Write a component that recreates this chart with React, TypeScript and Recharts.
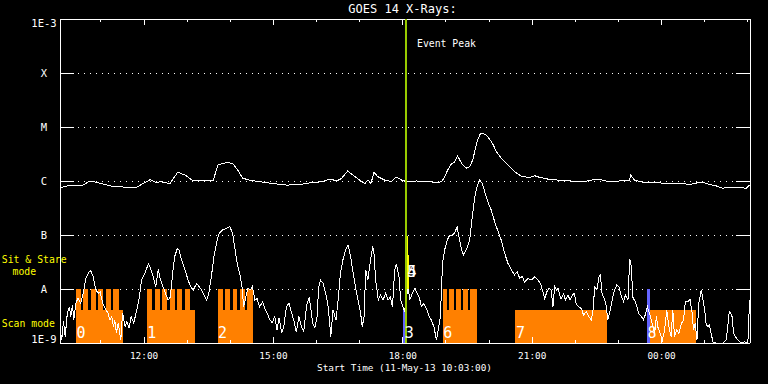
import React from 'react';
import {
  LineChart,
  Line,
  XAxis,
  YAxis,
  ReferenceArea,
  ReferenceLine,
  ReferenceDot
} from 'recharts';

const FONT = '"DejaVu Sans Mono", monospace';

// GOES long channel (1-8 A), hours since 00:00 on 11-May-13
const longTime = [
  10.05, 10.21, 10.40, 10.58, 10.75, 10.86, 11.28, 11.56, 11.83, 12.14,
  12.30, 12.37, 12.60, 12.78, 12.95, 13.11, 13.60, 13.71, 13.92, 14.06,
  14.17, 14.29, 14.45, 14.68, 14.98, 15.31, 15.61, 15.91, 16.14, 16.31,
  16.47, 16.58, 16.72, 16.84, 17.05, 17.12, 17.19, 17.26, 17.33, 17.42,
  17.58, 17.74, 17.84, 17.97, 18.09, 18.32, 18.62, 18.79, 18.90, 18.97,
  19.04, 19.13, 19.20, 19.27, 19.32, 19.39, 19.48, 19.55, 19.62, 19.69,
  19.73, 19.80, 19.90, 19.97, 20.08, 20.17, 20.29, 20.41, 20.55, 20.66,
  20.78, 20.94, 21.06, 21.17, 21.40, 21.80, 22.17, 22.52, 22.72, 23.02,
  23.26, 23.28, 23.37, 23.56, 23.95, 24.11, 24.48, 24.65, 24.92, 25.11,
  25.27, 25.41, 25.64, 25.97, 26.04
];
const longFlux = [
  7.4e-7, 8.1e-7, 8.4e-7, 8.4e-7, 1.0e-6, 9.6e-7, 7.9e-7, 7.7e-7, 7.7e-7, 1.06e-6,
  9.2e-7, 9.7e-7, 9.0e-7, 1.45e-6, 1.29e-6, 1.04e-6, 1.0e-6, 1.98e-6, 2.2e-6, 2.1e-6,
  1.6e-6, 1.12e-6, 1.04e-6, 9.7e-7, 9.0e-7, 8.4e-7, 8.6e-7, 9.4e-7, 9.7e-7, 1.09e-6,
  1.0e-6, 1.12e-6, 1.53e-6, 1.29e-6, 9.7e-7, 9.0e-7, 1.04e-6, 9.0e-7, 1.45e-6, 1.2e-6,
  1.04e-6, 9.7e-7, 1.19e-6, 1.04e-6, 9.7e-7, 1.0e-6, 9.7e-7, 9.3e-7, 9.7e-7, 1.2e-6,
  1.6e-6, 2.1e-6, 2.25e-6, 2.9e-6, 2.45e-6, 1.98e-6, 1.73e-6, 1.85e-6, 2.45e-6, 4.2e-6,
  5.7e-6, 7.6e-6, 7.4e-6, 6.6e-6, 4.95e-6, 3.5e-6, 2.6e-6, 2.1e-6, 1.6e-6, 1.35e-6,
  1.2e-6, 1.17e-6, 1.25e-6, 1.17e-6, 1.07e-6, 1.01e-6, 9.7e-7, 1.09e-6, 1.0e-6, 1.0e-6,
  1.04e-6, 1.29e-6, 1.04e-6, 9.5e-7, 9.3e-7, 8.8e-7, 9.0e-7, 8.6e-7, 9.6e-7, 8.6e-7,
  8.1e-7, 7.4e-7, 7.5e-7, 7.4e-7, 8.4e-7
];

// GOES short channel (0.5-4 A)
const shortTime = [
  10.05, 10.09, 10.13, 10.17, 10.22, 10.27, 10.30, 10.34, 10.37, 10.42,
  10.47, 10.53, 10.59, 10.65, 10.71, 10.76, 10.82, 10.88, 10.94, 10.98,
  11.04, 11.09, 11.16, 11.21, 11.25, 11.29, 11.32, 11.36, 11.40, 11.46,
  11.50, 11.56, 11.60, 11.65, 11.70, 11.76, 11.83, 11.88, 11.94, 12.02,
  12.10, 12.15, 12.21, 12.27, 12.33, 12.38, 12.44, 12.51, 12.56, 12.61,
  12.66, 12.71, 12.77, 12.81, 12.87, 12.95, 13.02, 13.08, 13.14, 13.22,
  13.28, 13.33, 13.39, 13.45, 13.50, 13.56, 13.62, 13.68, 13.74, 13.82,
  13.91, 13.99, 14.05, 14.10, 14.16, 14.22, 14.27, 14.31, 14.36, 14.41,
  14.47, 14.51, 14.57, 14.62, 14.68, 14.75, 14.80, 14.85, 14.92, 14.97,
  15.03, 15.08, 15.13, 15.19, 15.24, 15.30, 15.36, 15.42, 15.47, 15.53,
  15.59, 15.65, 15.70, 15.77, 15.83, 15.91, 15.96, 16.01, 16.05, 16.09,
  16.15, 16.21, 16.27, 16.33, 16.38, 16.45, 16.50, 16.55, 16.61, 16.67,
  16.73, 16.79, 16.85, 16.90, 16.96, 17.02, 17.06, 17.10, 17.14, 17.19,
  17.25, 17.30, 17.33, 17.37, 17.43, 17.48, 17.54, 17.60, 17.66, 17.71,
  17.76, 17.81, 17.85, 17.91, 17.95, 18.00, 18.04, 18.12, 18.16, 18.22,
  18.28, 18.33, 18.38, 18.43, 18.48, 18.55, 18.61, 18.66, 18.72, 18.78,
  18.82, 18.87, 18.92, 18.97, 19.03, 19.09, 19.15, 19.20, 19.26, 19.30,
  19.36, 19.41, 19.47, 19.55, 19.61, 19.67, 19.72, 19.78, 19.84, 19.90,
  19.97, 20.05, 20.13, 20.21, 20.28, 20.36, 20.44, 20.52, 20.59, 20.65,
  20.71, 20.77, 20.82, 20.90, 20.98, 21.06, 21.13, 21.19, 21.25, 21.29,
  21.34, 21.39, 21.44, 21.48, 21.52, 21.56, 21.60, 21.64, 21.67, 21.73,
  21.77, 21.83, 21.88, 21.93, 21.98, 22.02, 22.08, 22.14, 22.19, 22.25,
  22.31, 22.37, 22.41, 22.45, 22.50, 22.55, 22.58, 22.62, 22.68, 22.72,
  22.75, 22.81, 22.86, 22.91, 22.96, 23.01, 23.07, 23.12, 23.16, 23.22,
  23.26, 23.30, 23.33, 23.39, 23.43, 23.47, 23.53, 23.58, 23.63, 23.67,
  23.74, 23.78, 23.84, 23.88, 23.91, 23.97, 24.02, 24.07, 24.12, 24.17,
  24.22, 24.26, 24.30, 24.35, 24.40, 24.46, 24.51, 24.55, 24.61, 24.66,
  24.71, 24.74, 24.78, 24.82, 24.86, 24.92, 24.96, 25.00, 25.03, 25.07,
  25.11, 25.15, 25.19, 25.27, 25.42, 25.50, 25.57, 25.63, 25.67, 25.71,
  25.77, 25.85, 25.92, 26.00, 26.04
];
const shortFlux = [
  1.85e-9, 1.14e-9, 2.5e-9, 1.31e-9, 3.6e-9, 4.7e-9, 3.1e-9, 5.1e-9, 2.67e-9, 5.5e-9,
  6.8e-9, 5.5e-9, 8.4e-9, 1.6e-8, 2.0e-8, 2.2e-8, 1.7e-8, 9.6e-9, 8.4e-9, 8.9e-9,
  5.5e-9, 4.5e-9, 3.6e-9, 2.67e-9, 3.1e-9, 2.0e-9, 2.67e-9, 1.53e-9, 2.35e-9, 1.14e-9,
  3.6e-9, 2.0e-9, 2.5e-9, 1.9e-9, 3.1e-9, 2.35e-9, 4.1e-9, 6.25e-9, 1.47e-8, 1.95e-8,
  2.95e-8, 2.4e-8, 1.7e-8, 1.1e-8, 2.3e-8, 1.47e-8, 1.1e-8, 7.7e-9, 6.25e-9, 7.1e-9,
  1.9e-8, 4.0e-8, 5.6e-8, 5.3e-8, 3.44e-8, 2.25e-8, 1.47e-8, 1.1e-8, 9.6e-9, 1.27e-8,
  1.1e-8, 9.6e-9, 7.7e-9, 6.25e-9, 8.3e-9, 1.7e-8, 4.0e-8, 7.1e-8, 1.08e-7, 1.24e-7,
  1.33e-7, 1.42e-7, 1.08e-7, 6.1e-8, 2.95e-8, 1.9e-8, 1.1e-8, 4.7e-9, 7.1e-9, 1.03e-8,
  9.6e-9, 1.1e-8, 6.25e-9, 6.6e-9, 4.7e-9, 5.8e-9, 4.35e-9, 3.6e-9, 2.67e-9, 2.35e-9,
  3.1e-9, 1.74e-9, 2.9e-9, 1.53e-9, 2.0e-9, 4.7e-9, 5.5e-9, 3.6e-9, 2.67e-9, 1.6e-9,
  3.1e-9, 2.0e-9, 1.6e-9, 5.1e-9, 7.1e-9, 2.3e-9, 1.9e-9, 3.1e-9, 1.1e-8, 1.47e-8,
  1.27e-8, 8.3e-9, 4.7e-9, 1.31e-9, 4.1e-9, 2.67e-9, 6.25e-9, 1.9e-8, 3.44e-8, 5.3e-8,
  6.5e-8, 4.0e-8, 1.9e-8, 1.1e-8, 6.25e-9, 3.6e-9, 2.0e-9, 3.1e-9, 2.25e-8, 1.47e-8,
  3.44e-8, 6.1e-8, 4.6e-8, 1.47e-8, 6.25e-9, 7.7e-9, 6.25e-9, 8.3e-9, 6.25e-9, 7.1e-9,
  4.7e-9, 2.25e-8, 2.95e-8, 1.7e-8, 6.25e-9, 4.7e-9, 3.8e-9, 1.1e-8, 6.25e-9, 8.3e-9,
  1.03e-8, 8.3e-9, 7.1e-9, 4.7e-9, 5.3e-9, 4.35e-9, 3.1e-9, 2.67e-9, 2.0e-9, 1.14e-9,
  1.74e-9, 3.1e-9, 2.95e-8, 5.3e-8, 8.1e-8, 1.0e-7, 1.0e-7, 1.1e-7, 1.42e-7, 9.3e-8,
  5.3e-8, 4.26e-8, 5.3e-8, 8.1e-8, 2.2e-7, 5.1e-7, 7.9e-7, 1.04e-6, 9.0e-7, 6.3e-7,
  4.1e-7, 2.9e-7, 1.75e-7, 1.15e-7, 8.1e-8, 4.6e-8, 2.95e-8, 2.25e-8, 1.82e-8, 2.1e-8,
  1.57e-8, 1.7e-8, 1.35e-8, 1.57e-8, 1.47e-8, 1.7e-8, 1.47e-8, 1.27e-8, 8.9e-9, 6.6e-9,
  8.9e-9, 1.03e-8, 9.6e-9, 4.7e-9, 1.1e-8, 9.6e-9, 1.03e-8, 7.7e-9, 6.6e-9, 8.3e-9,
  6.25e-9, 7.7e-9, 6.25e-9, 7.7e-9, 8.3e-9, 5.3e-9, 4.7e-9, 4.35e-9, 3.3e-9, 3.8e-9,
  3.1e-9, 2.67e-9, 4.1e-9, 1.1e-8, 9.6e-9, 1.7e-8, 1.82e-8, 8.3e-9, 6.25e-9, 4.7e-9,
  2.67e-9, 4.1e-9, 6.6e-9, 9.6e-9, 1.19e-8, 1.1e-8, 7.1e-9, 5.8e-9, 7.7e-9, 6.25e-9,
  3.6e-8, 2.6e-8, 7.1e-9, 5.8e-9, 4.7e-9, 3.5e-9, 3.1e-9, 2.67e-9, 3.5e-9, 4.7e-9,
  3.1e-9, 2.3e-9, 1.5e-9, 3.1e-9, 2.0e-9, 1.5e-9, 1.14e-9, 1.74e-9, 4.1e-9, 2.0e-9,
  1.31e-9, 4.1e-9, 1.31e-9, 1.74e-9, 1.5e-9, 2.3e-9, 2.67e-9, 5.8e-9, 5.8e-9, 6.4e-9,
  3.5e-9, 1.74e-9, 2.3e-9, 1.14e-9, 5.3e-9, 9.6e-9, 6.25e-9, 4.1e-9, 2.3e-9, 2.0e-9,
  2.15e-9, 1.5e-9, 1.05e-9, 1.0e-9, 1.0e-9, 1.14e-9, 3.8e-9, 3.3e-9, 1.5e-9, 1.31e-9,
  1.14e-9, 1.0e-9, 1.05e-9, 1.0e-9, 6.25e-9
];

// flare class levels on the y axis
const levelValues = [1e-9, 1e-8, 1e-7, 1e-6, 1e-5, 1e-4, 1e-3];
const levelLabels = ['1E-9', 'A', 'B', 'C', 'M', 'X', '1E-3'];
const gridLevels = [1e-8, 1e-7, 1e-6, 1e-5, 1e-4];

const hourTicks = [11, 12, 13, 14, 15, 16, 17, 18, 19, 20, 21, 22, 23, 24, 25, 26];

// IRIS observing modes (hours)
const scanStart = [10.42, 12.07, 13.71, 18.92, 20.60, 23.73];
const scanEnd = [11.50, 13.18, 14.52, 19.71, 22.73, 24.79];
const stareStart = [
  10.42, 10.59, 10.76, 10.94, 11.11, 11.29,
  12.07, 12.25, 12.42, 12.59, 12.76, 12.94,
  13.71, 13.88, 14.05, 14.22, 14.39,
  18.92, 19.08, 19.23, 19.40, 19.56
];
const stareEnd = [
  10.54, 10.71, 10.89, 11.05, 11.23, 11.42,
  12.18, 12.36, 12.54, 12.71, 12.89, 13.06,
  13.82, 13.99, 14.16, 14.34, 14.52,
  19.02, 19.18, 19.34, 19.50, 19.71
];
const obsIds = ['0', '1', '2', '3', '4', '5', '6', '7', '8'];
const obsTime = [10.54, 12.18, 13.82, 18.15, 18.21, 18.21, 19.04, 20.73, 23.78];
const obsFlux = [1.55e-9, 1.55e-9, 1.55e-9, 1.55e-9, 2.07e-8, 2.07e-8, 1.55e-9, 1.55e-9, 1.55e-9];

const eventPeak = 18.073;

const longData = longTime.map((t, i) => ({ t, v: longFlux[i] }));
const shortData = shortTime.map((t, i) => ({ t, v: shortFlux[i] }));

const levelIndex = (v: number) =>
  levelValues.findIndex((l) => Math.abs(Math.log10(l) - Math.log10(v)) < 0.01);

const LeftTick = (props: any) => {
  const { x, y, payload } = props;
  const i = levelIndex(payload.value);
  const dy = i === 0 ? 0.3 : i === levelValues.length - 1 ? 7.7 : 4.3;
  return (
    <g>
      <line x1={x} x2={x + 14} y1={y} y2={y} stroke="#fff" shapeRendering="crispEdges" />
      <text x={x - 16} y={y + dy} textAnchor="middle" fill="#fff" fontSize={10.5} fontFamily={FONT}>
        {levelLabels[i]}
      </text>
    </g>
  );
};

const RightTick = (props: any) => {
  const { x, y } = props;
  return <line x1={x - 14} x2={x} y1={y} y2={y} stroke="#fff" shapeRendering="crispEdges" />;
};

const hourLabel = (h: number) => String(h % 24).padStart(2, '0') + ':00';

const BottomTick = (props: any) => {
  const { x, y, payload } = props;
  const major = payload.value % 3 === 0;
  return (
    <g>
      <line x1={x} x2={x} y1={y} y2={y - (major ? 6 : 3)} stroke="#fff" shapeRendering="crispEdges" />
      {major && (
        <text x={x} y={y + 16.3} textAnchor="middle" fill="#fff" fontSize={9.4} fontFamily={FONT}>
          {hourLabel(payload.value)}
        </text>
      )}
    </g>
  );
};

const TopTick = (props: any) => {
  const { x, y, payload } = props;
  const major = payload.value % 3 === 0;
  return <line x1={x} x2={x} y1={y} y2={y + (major ? 6 : 3)} stroke="#fff" shapeRendering="crispEdges" />;
};

const PeakLabel = (props: any) => {
  const { viewBox } = props;
  return (
    <text x={viewBox.x + 11} y={viewBox.y + 27.7} fill="#fff" fontSize={9.8} fontFamily={FONT}>
      Event Peak
    </text>
  );
};

const App: React.FC = () => {
  return (
    <div style={{ position: 'fixed', left: 0, top: 0, width: 768, height: 384, background: '#000' }}>
      <LineChart width={768} height={384} margin={{ top: 0, right: 0, bottom: 0, left: 0 }}>
        <XAxis
          xAxisId="b"
          type="number"
          dataKey="t"
          domain={[10.05, 26.05]}
          allowDataOverflow
          ticks={hourTicks}
          interval={0}
          height={41}
          tickSize={0}
          tickMargin={0}
          tickLine={false}
          tick={<BottomTick />}
          axisLine={{ stroke: '#fff', shapeRendering: 'crispEdges' }}
        />
        <XAxis
          xAxisId="top"
          orientation="top"
          type="number"
          dataKey="t"
          domain={[10.05, 26.05]}
          allowDataOverflow
          ticks={hourTicks}
          interval={0}
          height={19}
          tickSize={0}
          tickMargin={0}
          tickLine={false}
          tick={<TopTick />}
          axisLine={{ stroke: '#fff', shapeRendering: 'crispEdges' }}
        />
        <YAxis
          yAxisId="l"
          type="number"
          scale="log"
          domain={[1e-9, 1e-3]}
          allowDataOverflow
          ticks={levelValues}
          interval={0}
          width={60}
          tickSize={0}
          tickMargin={0}
          tickLine={false}
          tick={<LeftTick />}
          axisLine={{ stroke: '#fff', shapeRendering: 'crispEdges' }}
        />
        <YAxis
          yAxisId="r"
          orientation="right"
          type="number"
          scale="log"
          domain={[1e-9, 1e-3]}
          allowDataOverflow
          ticks={levelValues}
          interval={0}
          width={18}
          tickSize={0}
          tickMargin={0}
          tickLine={false}
          tick={<RightTick />}
          axisLine={{ stroke: '#fff', shapeRendering: 'crispEdges' }}
        />

        {gridLevels.map((g) => (
          <ReferenceLine
            key={'g' + g}
            xAxisId="b"
            yAxisId="l"
            y={g}
            stroke="#fff"
            strokeDasharray="1 5"
            shapeRendering="crispEdges"
            zIndex={-50}
          />
        ))}

        {scanStart.map((s, i) => (
          <ReferenceArea
            key={'scan' + i}
            xAxisId="b"
            yAxisId="l"
            x1={s}
            x2={scanEnd[i]}
            y1={1e-9}
            y2={4.1e-9}
            fill="#ff8000"
            fillOpacity={1}
            stroke="none"
            shapeRendering="crispEdges"
            zIndex={50}
          />
        ))}
        {stareStart.map((s, i) => (
          <ReferenceArea
            key={'stare' + i}
            xAxisId="b"
            yAxisId="l"
            x1={s}
            x2={stareEnd[i]}
            y1={1e-9}
            y2={1e-8}
            fill="#ff8000"
            fillOpacity={1}
            stroke="none"
            shapeRendering="crispEdges"
            zIndex={50}
          />
        ))}
        <ReferenceArea xAxisId="b" yAxisId="l" x1={18.01} x2={18.07} y1={1e-9} y2={4.1e-9} fill="#6464ff" fillOpacity={1} stroke="none" shapeRendering="crispEdges" zIndex={60} />
        <ReferenceArea xAxisId="b" yAxisId="l" x1={23.66} x2={23.73} y1={1e-9} y2={1e-8} fill="#6464ff" fillOpacity={1} stroke="none" shapeRendering="crispEdges" zIndex={60} />

        <Line xAxisId="b" yAxisId="l" data={longData} dataKey="v" stroke="#fff" strokeWidth={1} shapeRendering="crispEdges" dot={false} activeDot={false} isAnimationActive={false} />
        <Line xAxisId="b" yAxisId="l" data={shortData} dataKey="v" stroke="#fff" strokeWidth={1} shapeRendering="crispEdges" dot={false} activeDot={false} isAnimationActive={false} />

        <ReferenceArea xAxisId="b" yAxisId="l" x1={18.09} x2={18.135} y1={1e-8} y2={4.3e-8} fill="#ffff00" fillOpacity={1} stroke="none" shapeRendering="crispEdges" zIndex={1400} />
        <ReferenceArea xAxisId="b" yAxisId="l" x1={18.09} x2={18.11} y1={4.3e-8} y2={9.6e-8} fill="#ffff00" fillOpacity={1} stroke="none" shapeRendering="crispEdges" zIndex={1400} />
        <ReferenceLine
          xAxisId="b"
          yAxisId="l"
          x={eventPeak}
          stroke="#99cc00"
          strokeWidth={2}
          zIndex={1500}
          label={<PeakLabel />}
        />

        {obsIds.map((id, i) => (
          <ReferenceDot
            key={'obs' + i}
            xAxisId="b"
            yAxisId="l"
            x={obsTime[i]}
            y={obsFlux[i]}
            r={0}
            fill="none"
            stroke="none"
            zIndex={1600}
            label={{ value: id, position: 'center', fill: '#fff', fontSize: 15, fontFamily: FONT }}
          />
        ))}
      </LineChart>

      <svg width={768} height={384} style={{ position: 'absolute', left: 0, top: 0, pointerEvents: 'none' }}>
        <text x={402.5} y={13.3} textAnchor="middle" fill="#fff" fontSize={12} fontFamily={FONT}>
          GOES 14 X-Rays:
        </text>
        <text x={404.5} y={371} textAnchor="middle" fill="#fff" fontSize={9.4} fontFamily={FONT}>
          Start Time (11-May-13 10:03:00)
        </text>
        <text x={34.2} y={263} textAnchor="middle" fill="#ffff00" fontSize={9.8} fontFamily={FONT}>
          Sit &amp; Stare
        </text>
        <text x={24.3} y={275} textAnchor="middle" fill="#ffff00" fontSize={9.8} fontFamily={FONT}>
          mode
        </text>
        <text x={28.3} y={327} textAnchor="middle" fill="#ffff00" fontSize={9.8} fontFamily={FONT}>
          Scan mode
        </text>
      </svg>
    </div>
  );
};

export default App;
